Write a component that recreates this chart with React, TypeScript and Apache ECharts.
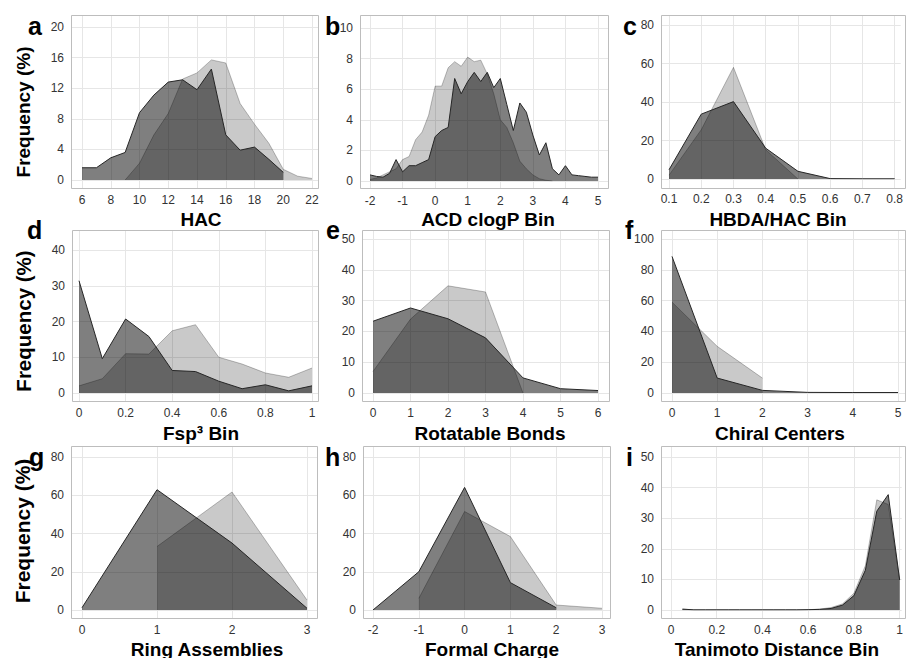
import React, { useEffect, useRef } from "react";
import * as echarts from "echarts";

// ---------- data ----------
// a: HAC
const hacX = [6, 7, 8, 9, 10, 11, 12, 13, 14, 15, 16, 17, 18, 19, 20, 21, 22];
const hacDark = [1.6, 1.6, 2.9, 3.6, 8.8, 11.1, 12.8, 13.1, 11.8, 14.5, 5.9, 3.9, 4.3, 2.7, 1.0, null, null];
const hacLight = [null, null, null, 0, 2.2, 5.9, 8.7, 13.2, 14.0, 15.7, 15.3, 10.0, 7.3, 4.8, 1.4, 0.5, 0.2];

// b: ACD clogP Bin
const clogpX = [-2, -1.8, -1.6, -1.4, -1.2, -1, -0.8, -0.6, -0.4, -0.2, 0, 0.2, 0.4, 0.6, 0.8, 1, 1.2, 1.4, 1.6, 1.8, 2, 2.2, 2.4, 2.6, 2.8, 3, 3.2, 3.4, 3.6, 3.8, 4, 4.2, 4.4, 4.6, 4.8, 5];
const clogpDark = [0.4, 0.3, 0.25, 0.5, 1.4, 0.6, 1.0, 1.0, 1.2, 1.4, 2.9, 3.3, 3.5, 6.7, 5.7, 6.5, 7.1, 6.5, 7.1, 6.1, 6.7, 5.0, 3.3, 5.1, 4.5, 3.0, 1.7, 2.5, 0.8, 0.4, 1.0, 0.4, 0.35, 0.3, 0.25, 0.25];
const clogpLight = [0.1, 0.2, 0.4, 0.6, 0.8, 1.4, 1.6, 2.7, 3.2, 4.3, 6.2, 6.2, 7.4, 7.8, 7.5, 8.1, 7.8, 7.9, 7.0, 5.7, 4.0, 3.5, 2.5, 1.3, 0.8, 0.4, 0.15, 0.05, 0, null, null, null, null, null, null, null];

// c: HBDA/HAC Bin
const hbdaX = [0.1, 0.2, 0.3, 0.4, 0.5, 0.6, 0.7, 0.8];
const hbdaDark = [4.8, 33.7, 40.2, 16.0, 4.0, 0.2, 0.1, 0.1];
const hbdaLight = [2.0, 25.6, 58.0, 15.2, 0, null, null, null];

// d: Fsp3 Bin
const fspX = [0, 0.1, 0.2, 0.3, 0.4, 0.5, 0.6, 0.7, 0.8, 0.9, 1];
const fspDark = [31.4, 9.6, 20.7, 15.8, 6.3, 6.0, 3.3, 1.2, 2.3, 0.6, 2.0];
const fspLight = [2.0, 4.0, 11.0, 10.9, 17.4, 19.1, 10.0, 8.1, 5.6, 4.4, 7.0];

// e: Rotatable Bonds
const rotX = [0, 1, 2, 3, 4, 5, 6];
const rotDark = [23.3, 27.6, 24.1, 17.9, 4.9, 1.4, 0.8];
const rotLight = [7.0, 24.0, 34.8, 32.8, 0, null, null];

// f: Chiral Centers
const chiralX = [0, 1, 2, 3, 4, 5];
const chiralDark = [88.7, 9.7, 1.7, 0.4, 0.3, 0.3];
const chiralLight = [59.0, 30.3, 9.7, null, null, null];

// g: Ring Assemblies
const ringX = [0, 1, 2, 3];
const ringDark = [1.2, 62.9, 35.0, 0.9];
const ringLight = [null, 33.2, 61.7, 5.2];

// h: Formal Charge
const chargeX = [-2, -1, 0, 1, 2, 3];
const chargeDark = [0, 20.0, 64.1, 14.3, 1.2, null];
const chargeLight = [null, 6.1, 51.5, 38.4, 2.6, 0.9];

// i: Tanimoto Distance Bin
const tanX = [0.05, 0.1, 0.15, 0.2, 0.25, 0.3, 0.35, 0.4, 0.45, 0.5, 0.55, 0.6, 0.65, 0.7, 0.75, 0.8, 0.85, 0.9, 0.95, 1];
const tanDark = [0.3, 0.05, 0.05, 0.05, 0.05, 0.05, 0.05, 0.05, 0.05, 0.05, 0.05, 0.1, 0.2, 0.5, 1.6, 4.7, 13.0, 32.3, 37.7, 9.8];
const tanLight = [0.05, 0, 0, 0, 0, 0, 0, 0, 0, 0, 0, 0.1, 0.3, 0.8, 2.0, 5.5, 14.5, 36.0, 34.5, 10.0];

// axis ticks: [min, max, step]
const xTicks: number[][] = [[6, 22, 2], [-2, 5, 1], [0.1, 0.8, 0.1], [0, 1, 0.2], [0, 6, 1], [0, 5, 1], [0, 3, 1], [-2, 3, 1], [0, 1, 0.2]];
const yTicks: number[][] = [[0, 20, 4], [0, 10, 2], [0, 80, 20], [0, 40, 10], [0, 50, 10], [0, 100, 20], [0, 80, 20], [0, 80, 20], [0, 50, 10]];

const letters = ["a", "b", "c", "d", "e", "f", "g", "h", "i"];
const titles = ["HAC", "ACD clogP Bin", "HBDA/HAC Bin", "Fsp³ Bin", "Rotatable Bonds", "Chiral Centers", "Ring Assemblies", "Formal Charge", "Tanimoto Distance Bin"];
const yTitle = "Frequency (%)";

const panelData = [
  [hacX, hacDark, hacLight],
  [clogpX, clogpDark, clogpLight],
  [hbdaX, hbdaDark, hbdaLight],
  [fspX, fspDark, fspLight],
  [rotX, rotDark, rotLight],
  [chiralX, chiralDark, chiralLight],
  [ringX, ringDark, ringLight],
  [chargeX, chargeDark, chargeLight],
  [tanX, tanDark, tanLight],
] as any[];

// ---------- layout (pixels) ----------
// data area [left, right, top, bottom], frame [left, right, top, bottom]
const dataBoxes = [
  [82, 312, 27, 180], [370, 598, 28, 181], [669, 899, 25, 179],
  [79, 312, 250, 393], [373, 598, 239, 393], [672, 898, 239, 393],
  [82, 307, 457, 610], [373, 602, 457, 610], [671, 903, 457, 610],
];
const frameBoxes = [
  [71, 318, 15, 188], [360, 608, 15, 188], [661, 905, 15, 188],
  [72, 318, 230, 401], [362, 609, 230, 401], [661, 905, 230, 401],
  [71, 317, 446, 618], [363, 610, 446, 618], [661, 905, 446, 618],
];
const letterPos = [
  [28, 26], [325, 26], [623, 26],
  [27, 230], [326, 230], [625, 230],
  [29, 457], [325, 457], [626, 457],
];
const titlePos = [
  [201, 219], [488, 219], [778, 219],
  [201, 433], [490, 433], [780, 433],
  [207, 649], [492, 649], [777, 649],
];
const yTitlePos = [[23, 112, 19], [23, 321, 20.5], [22, 531, 21]];

const FONT = "'Liberation Sans', Arial, Helvetica, sans-serif";
const GRID = "#e6e6e6";
const FRAME = "#bdbdbd";

function buildOption() {
  const grid: any[] = [];
  const xAxis: any[] = [];
  const yAxis: any[] = [];
  const series: any[] = [];
  const graphic: any[] = [];

  panelData.forEach((pd, i) => {
    const [dl, dr, dt, db] = dataBoxes[i];
    const [fl, fr, ft, fb] = frameBoxes[i];
    const [xmin, xmax, xstep] = xTicks[i];
    const [ymin, ymax, ystep] = yTicks[i];
    grid.push({ left: dl, top: dt, width: dr - dl, height: db - dt });

    const xBase = {
      type: "value", gridIndex: i, min: xmin, max: xmax, interval: xstep,
      axisLine: { show: false, onZero: false },
    };
    xAxis.push({
      ...xBase, position: "bottom",
      splitLine: { show: true, lineStyle: { color: GRID, width: 1 } },
      axisTick: { show: true, inside: false, length: fb - db, lineStyle: { color: GRID, width: 1 } },
      axisLabel: { show: true, margin: 14, fontSize: 12, color: "#333", fontFamily: FONT },
    });
    xAxis.push({
      ...xBase, position: "top",
      splitLine: { show: false },
      axisTick: { show: true, inside: false, length: dt - ft, lineStyle: { color: GRID, width: 1 } },
      axisLabel: { show: false },
    });
    const yBase = {
      type: "value", gridIndex: i, min: ymin, max: ymax, interval: ystep,
      axisLine: { show: false, onZero: false },
    };
    yAxis.push({
      ...yBase, position: "left",
      splitLine: { show: true, lineStyle: { color: GRID, width: 1 } },
      axisTick: { show: true, inside: false, length: dl - fl, lineStyle: { color: GRID, width: 1 } },
      axisLabel: { show: true, margin: dl - fl + 7, fontSize: 12, color: "#333", fontFamily: FONT },
    });
    yAxis.push({
      ...yBase, position: "right",
      splitLine: { show: false },
      axisTick: { show: true, inside: false, length: fr - dr, lineStyle: { color: GRID, width: 1 } },
      axisLabel: { show: false },
    });

    const xs: number[] = pd[0];
    const dark: (number | null)[] = pd[1];
    const light: (number | null)[] = pd[2];
    series.push({
      type: "line", name: "light-" + letters[i], xAxisIndex: 2 * i, yAxisIndex: 2 * i,
      data: xs.map((x, k) => [x, light[k] === null ? "-" : light[k]]),
      showSymbol: false, symbol: "none", silent: true,
      lineStyle: { color: "rgba(0,0,0,0.25)", width: 1 },
      areaStyle: { color: "rgba(0,0,0,0.21)", opacity: 1 },
      z: 2,
    });
    series.push({
      type: "line", name: "dark-" + letters[i], xAxisIndex: 2 * i, yAxisIndex: 2 * i,
      data: xs.map((x, k) => [x, dark[k] === null ? "-" : dark[k]]),
      showSymbol: false, symbol: "none", silent: true,
      lineStyle: { color: "#262626", width: 1 },
      areaStyle: { color: "rgba(0,0,0,0.5)", opacity: 1 },
      z: 3,
    });

    graphic.push({
      type: "rect", silent: true, z: 50,
      shape: { x: fl + 0.5, y: ft + 0.5, width: fr - fl, height: fb - ft },
      style: { fill: "none", stroke: FRAME, lineWidth: 1 },
    });
    graphic.push({
      type: "text", z: 60, x: letterPos[i][0], y: letterPos[i][1],
      style: {
        text: letters[i], fontSize: 25, fontWeight: "bold", fontFamily: FONT, fill: "#000",
        align: "left", verticalAlign: "middle", textAlign: "left", textVerticalAlign: "middle",
      },
    });
    graphic.push({
      type: "text", z: 60, x: titlePos[i][0], y: titlePos[i][1],
      style: {
        text: titles[i], fontSize: 19, fontWeight: "bold", fontFamily: FONT, fill: "#000",
        align: "center", verticalAlign: "middle", textAlign: "center", textVerticalAlign: "middle",
      },
    });
  });

  yTitlePos.forEach(([x, y, fs]) => {
    graphic.push({
      type: "text", z: 60, x, y, rotation: Math.PI / 2,
      style: {
        text: yTitle, fontSize: fs, fontWeight: "bold", fontFamily: FONT, fill: "#000",
        align: "center", verticalAlign: "middle", textAlign: "center", textVerticalAlign: "middle",
      },
    });
  });

  return {
    animation: false,
    backgroundColor: "#ffffff",
    textStyle: { fontFamily: FONT },
    grid, xAxis, yAxis, series, graphic,
  };
}

export default function App() {
  const ref = useRef<HTMLDivElement>(null);
  useEffect(() => {
    if (!ref.current) return;
    const chart = echarts.init(ref.current, null, { renderer: "svg" });
    chart.setOption(buildOption() as any);
    return () => chart.dispose();
  }, []);
  return (
    <div
      ref={ref}
      style={{ position: "fixed", left: 0, top: 0, width: 906, height: 658, background: "#fff" }}
    />
  );
}
